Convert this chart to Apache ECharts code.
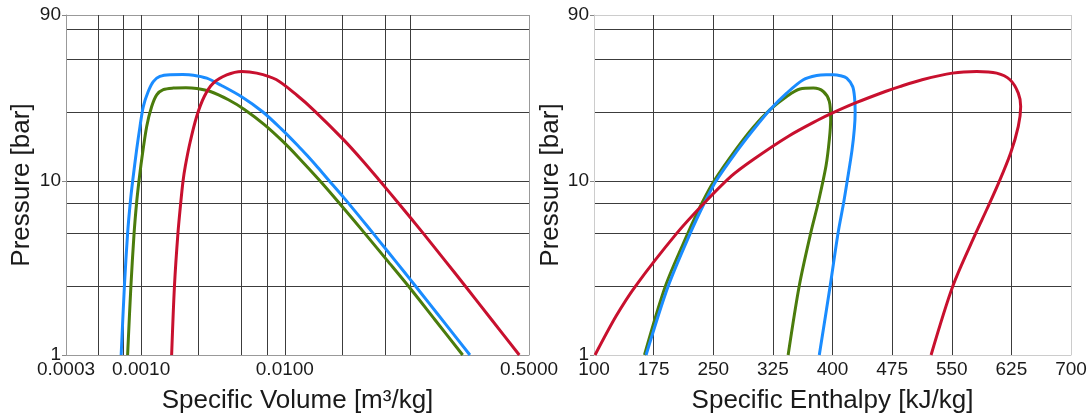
<!DOCTYPE html>
<html>
<head>
<meta charset="utf-8">
<script src="https://cdn.jsdelivr.net/npm/echarts@6/dist/echarts.min.js"></script>
<style>
html,body{margin:0;padding:0;background:#fff;}
#c{width:1091px;height:419px;}
</style>
</head>
<body>
<div id="c"></div>
<script>
// ---- tick / grid values ----
const pressureLabels = [1, 10, 90];
const pressureGrid = [1, 2.5, 5, 7.5, 10, 25, 50, 75, 90];
const volumeLabels = [0.0003, 0.001, 0.01, 0.5];
const volumeGrid = [0.0005, 0.00075, 0.001, 0.0025, 0.005, 0.0075, 0.01, 0.025, 0.05, 0.075, 0.5];
const enthalpyTicks = [100, 175, 250, 325, 400, 475, 550, 625, 700];

// ---- saturation domes: [specific volume m3/kg, pressure bar] ----
const bluePV = [[0.000726,1],[0.000765,2.5],[0.000805,5],[0.00084,7.5],[0.000873,10],[0.000931,15.2],[0.000982,20.6],[0.001035,26.8],[0.00112,32.7],[0.001215,37.3],[0.00135,39.9],[0.00159,40.8],[0.00195,40.9],[0.00231,40.6],[0.00286,39.0],[0.0036,35.5],[0.0050,30.5],[0.0070,25],[0.0094,20],[0.0123,16],[0.0143,14],[0.0169,12],[0.0204,10],[0.0258,8],[0.0344,6],[0.0412,5],[0.0512,4],[0.0678,3],[0.0808,2.5],[0.1001,2],[0.1318,1.5],[0.194,1]];
const greenPV = [[0.000805,1],[0.000849,2.5],[0.000893,5],[0.00093,7.5],[0.000966,10],[0.001009,13.3],[0.001093,20.6],[0.001184,26.8],[0.001283,31.3],[0.001426,33.5],[0.001674,34.2],[0.00205,34.35],[0.00244,34.0],[0.00303,32.7],[0.00405,29.3],[0.00526,25.7],[0.0072,21.1],[0.0096,17],[0.0123,13.8],[0.0176,10],[0.0238,7.5],[0.0360,5],[0.0515,3.5],[0.0721,2.5],[0.1104,1.6],[0.1728,1]];
const redPV = [[0.00163,1],[0.001706,2.5],[0.001803,5],[0.001886,7.5],[0.001957,10],[0.00203,12.2],[0.002187,16.6],[0.002435,23.5],[0.00275,30.6],[0.003177,36.5],[0.003938,40.7],[0.00501,42.6],[0.00637,41.7],[0.0087,38.3],[0.0122,31.0],[0.01594,25.5],[0.02559,17.3],[0.03503,13],[0.0459,10],[0.0614,7.5],[0.0919,5],[0.1298,3.5],[0.1793,2.5],[0.274,1.6],[0.428,1]];

// ---- saturation domes: [specific enthalpy kJ/kg, pressure bar] ----
const bluePH = [[165.5,1],[193.5,2.5],[221,5],[239,7.5],[253.5,10],[279.5,14.8],[300.4,19.7],[321.4,25.7],[342.4,32.0],[363.3,38.2],[380.1,40.4],[392,40.8],[401,40.8],[410,40.3],[417.9,39.0],[425.4,34.9],[427.8,30],[428.5,25],[427.5,20],[424.5,15],[418.5,10],[414,7.5],[406.9,5],[397.1,2.5],[383.4,1]];
const greenPH = [[163.5,1],[190,2.5],[218,5],[236,7.5],[251,10],[279.5,15.4],[300.4,20.4],[321.4,25.7],[342.4,30.6],[359,33.8],[376,34.2],[388.4,32.7],[396,28.7],[397.7,22.5],[396,17.3],[391.8,12.2],[382,7.5],[372.5,5],[358.2,2.5],[344.2,1]];
const redPH = [[101.3,1],[128,1.68],[152.5,2.5],[204,5],[239,7.5],[273,10.7],[300.4,13.3],[344.6,18.1],[382.4,22.5],[398.2,24.4],[428.9,28.1],[466.4,32.7],[484.5,34.9],[512.7,38.2],[550.8,41.7],[581.4,42.6],[606.5,41.7],[623.3,38.2],[633.7,32.0],[636.7,26.8],[633.7,20.6],[624.1,14.5],[609,9.76],[594,6.86],[580.1,5],[551.5,2.5],[524,1]];

const BLUE = '#1a8cff', GREEN = '#4b7c0c', RED = '#c8102e';
const TXT = '#1a1a1a', GRID = '#3c3c3c';
const FONT = 'Liberation Sans, Arial, sans-serif';
const TICK_FS = 19, NAME_FS = 26;

function yAxesFor(gi, axisColor, topColor, gap) {
  const splitColors = pressureGrid.map((v, i) => i === pressureGrid.length - 1 ? topColor : GRID);
  return [{
    type: 'log', logBase: 10, min: 1, max: 90, gridIndex: gi, position: 'left',
    name: 'Pressure [bar]', nameLocation: 'middle', nameGap: gap, nameRotate: 90,
    nameTextStyle: {fontSize: NAME_FS, color: TXT, fontFamily: FONT},
    axisLine: {show: true, lineStyle: {color: axisColor, width: 1}},
    axisTick: {show: false, customValues: pressureGrid},
    splitLine: {show: true, lineStyle: {color: splitColors, width: 1}},
    axisLabel: {customValues: pressureLabels, fontSize: TICK_FS, color: TXT, fontFamily: FONT, margin: 5,
      formatter: v => String(Math.round(v))}
  }, {
    type: 'log', logBase: 10, min: 1, max: 90, gridIndex: gi, position: 'left', offset: 0,
    axisLine: {show: false},
    axisTick: {show: true, length: 4, customValues: pressureLabels, lineStyle: {color: '#888'}},
    axisLabel: {show: false}, splitLine: {show: false}
  }];
}

const lineSeries = (data, color, xi, yi) => ({
  type: 'line', data: data, xAxisIndex: xi, yAxisIndex: yi,
  showSymbol: false, smooth: 0.3, silent: true,
  lineStyle: {color: color, width: 3}, itemStyle: {color: color}
});

const volSplitColors = volumeGrid.map((v, i) => i === volumeGrid.length - 1 ? '#999' : GRID);
const enthSplitColors = enthalpyTicks.map((v, i) => (i === 0 || i === enthalpyTicks.length - 1) ? '#ccc' : GRID);

const option = {
  animation: false,
  backgroundColor: '#fff',
  textStyle: {fontFamily: FONT},
  grid: [
    {left: 66, top: 15, width: 463, height: 341},
    {left: 594, top: 15, width: 477, height: 341}
  ],
  xAxis: [{
    type: 'log', logBase: 10, min: 0.0003, max: 0.5, gridIndex: 0,
    name: 'Specific Volume [m³/kg]', nameLocation: 'middle', nameGap: 33,
    nameTextStyle: {fontSize: NAME_FS, color: TXT, fontFamily: FONT},
    axisLine: {show: true, lineStyle: {color: '#999'}},
    axisTick: {show: false, customValues: volumeGrid},
    splitLine: {show: true, lineStyle: {color: volSplitColors, width: 1}},
    axisLabel: {customValues: volumeLabels, fontSize: TICK_FS, color: TXT, fontFamily: FONT, margin: 5,
      formatter: v => Number(v).toFixed(4)}
  }, {
    type: 'value', min: enthalpyTicks[0], max: enthalpyTicks[enthalpyTicks.length - 1], interval: 75, gridIndex: 1,
    name: 'Specific Enthalpy [kJ/kg]', nameLocation: 'middle', nameGap: 33,
    nameTextStyle: {fontSize: NAME_FS, color: TXT, fontFamily: FONT},
    axisLine: {show: true, lineStyle: {color: '#ccc'}},
    axisTick: {show: false},
    splitLine: {show: true, lineStyle: {color: enthSplitColors, width: 1}},
    axisLabel: {fontSize: TICK_FS, color: TXT, fontFamily: FONT, margin: 5, showMinLabel: true, showMaxLabel: true}
  }],
  yAxis: [].concat(yAxesFor(0, '#999', '#999', 31), yAxesFor(1, '#ccc', '#ccc', 29)),
  series: [
    lineSeries(greenPV, GREEN, 0, 0),
    lineSeries(bluePV, BLUE, 0, 0),
    lineSeries(redPV, RED, 0, 0),
    lineSeries(greenPH, GREEN, 1, 2),
    lineSeries(bluePH, BLUE, 1, 2),
    lineSeries(redPH, RED, 1, 2)
  ]
};

const chart = echarts.init(document.getElementById('c'), null, {renderer: 'canvas'});
chart.setOption(option);
</script>
</body>
</html>
